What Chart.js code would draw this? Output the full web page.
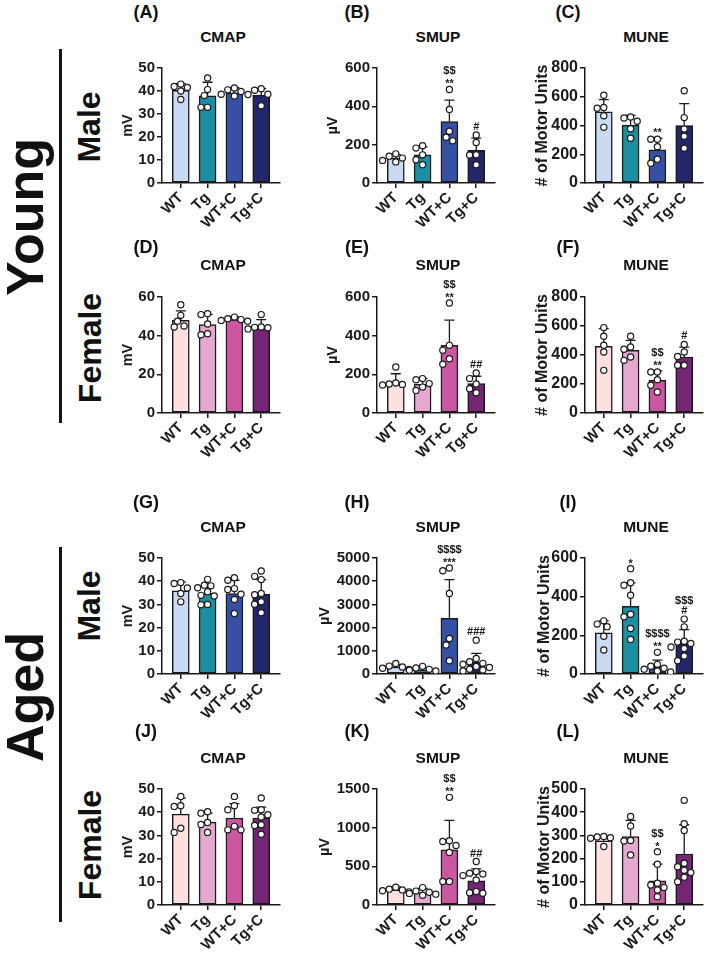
<!DOCTYPE html>
<html>
<head>
<meta charset="utf-8">
<script src="https://cdn.jsdelivr.net/npm/chart.js@4.4.0/dist/chart.umd.min.js"></script>
<style>
  body { margin: 0; width: 709px; height: 956px; background: #fff; position: relative; overflow: hidden;
         font-family: "Liberation Sans", Arial, sans-serif; font-weight: bold; color: #111; }
  .t { position: absolute; white-space: nowrap; line-height: 1; transform: translate(-50%, -50%); }
  .r { transform: translate(-50%, -50%) rotate(-90deg); }
  .vl { position: absolute; width: 3px; background: #111; }
  canvas { position: absolute; }
</style>
</head>
<body>
<div class="vl" style="left:59px;top:49px;height:374px"></div>
<div class="vl" style="left:59px;top:547px;height:375px"></div>
<div class="t r" style="left:25px;top:217px;font-size:52px">Young</div>
<div class="t r" style="left:25px;top:697px;font-size:52px">Aged</div>
<div class="t r" style="left:89px;top:127px;font-size:32px">Male</div>
<div class="t r" style="left:90px;top:348px;font-size:32px">Female</div>
<div class="t r" style="left:89px;top:606px;font-size:32px">Male</div>
<div class="t r" style="left:90px;top:845px;font-size:32px">Female</div>

<script>
const groups = ['WT', 'Tg', 'WT+C', 'Tg+C'];
const maleColors = ['#c8dbf2', '#1b8fa1', '#3650a6', '#23266b'];
const femaleColors = ['#fde0df', '#e3a9cf', '#cd579f', '#742574'];

// (A) young male CMAP
const aMean = [40.3, 37.9, 39.2, 38.2];
const aSd = [2.9, 5.9, 2.3, 2.8];
const aPts = [[42, 43, 41.5, 40, 36.3], [45.7, 40.6, 38, 32.9, 32.9], [41.3, 40.5, 39.8, 38.6, 37.8], [41, 40.3, 38.6, 38.5, 33.6]];
const aSig = [[], [], [], []];
// (B) young male SMUP
const bMean = [130, 147, 320, 170];
const bSd = [18, 42, 112, 64];
const bPts = [[152, 140, 130, 118, 110], [195, 182, 147, 121, 95], [488, 384, 270, 239, 220], [251, 211, 147, 146, 95]];
const bSig = [[], [], ['**', '$$'], ['#']];
// (C) young male MUNE
const cMean = [495, 403, 230, 400];
const cSd = [85, 68, 80, 152];
const cPts = [[610, 525, 520, 468, 387], [460, 452, 430, 378, 311], [304, 304, 253, 166, 138], [642, 455, 375, 325, 242]];
const cSig = [[], [], ['**'], []];
// (D) young female CMAP
const dMean = [47.9, 45.7, 48.3, 44.8];
const dSd = [4.9, 5.3, 1.4, 3.5];
const dPts = [[56, 50.5, 47.5, 45, 44.5], [51.4, 50.9, 46, 41, 40.5], [49.6, 48.8, 48.3, 47.9, 47.5], [50.9, 44.5, 44.3, 44.1, 43.5]];
const dSig = [[], [], [], []];
// (E) young female SMUP
const eMean = [160, 148, 350, 152];
const eSd = [43, 30, 130, 38];
const ePts = [[238, 155, 150, 148, 145], [178, 172, 152, 134, 117], [569, 350, 324, 281, 252], [207, 178, 150, 126, 105]];
const eSig = [[], [], ['**', '$$'], ['##']];
// (F) young female MUNE
const fMean = [460, 432, 225, 386];
const fSd = [122, 69, 65, 69];
const fPts = [[589, 529, 467, 421, 294], [529, 455, 440, 386, 363], [283, 283, 230, 191, 145], [473, 421, 390, 329, 329]];
const fSig = [[], [], ['**', '$$'], ['#']];
// (G) aged male CMAP
const gMean = [35.8, 34.7, 34.7, 34.4];
const gSd = [3.9, 4.0, 5.7, 6.3];
const gPts = [[39.4, 39, 37.1, 34.7, 31.1], [40.8, 38.3, 38.0, 37.2, 35.5, 33.9, 33.6, 30.0, 29.8], [41.5, 40.4, 36.8, 36.4, 34.4, 32.1, 26.1], [44.4, 42.1, 40.7, 34.7, 34.2, 31.1, 30.1, 26.4]];
const gSig = [[], [], [], []];
// (H) aged male SMUP
const hMean = [300, 180, 2400, 500];
const hSd = [100, 80, 1670, 390];
const hPts = [[450, 340, 300, 250, 200], [330, 260, 200, 160, 130, 100, 80], [4570, 4450, 3470, 1530, 1250, 570], [1460, 670, 530, 460, 420, 320, 280, 200, 170, 130]];
const hSig = [[], [], ['***', '$$$$'], ['###']];
// (I) aged male MUNE
const iMean = [213, 350, 38, 158];
const iSd = [62, 121, 34, 72];
const iPts = [[275, 258, 245, 195, 124], [545, 472, 459, 407, 309, 296, 235, 179], [112, 50, 40, 30, 25, 15, 10], [284, 244, 170, 165, 158, 140, 132, 93, 69]];
const iSig = [[], ['*'], ['**', '$$$$'], ['#', '$$$']];
// (J) aged female CMAP
const jMean = [39.2, 35.7, 37.5, 37.5];
const jSd = [6.9, 3.9, 6.2, 4.7];
const jPts = [[46.8, 42.8, 42.5, 33.1, 31.3], [40.2, 39.6, 35.6, 34.7, 31.3], [46.8, 42.8, 41.1, 33.9, 32.4, 32.4], [46.1, 41.1, 40.8, 38.9, 37.9, 34.6, 34.3, 30.5]];
const jSig = [[], [], [], []];
// (K) aged female SMUP
const kMean = [195, 160, 713, 311];
const kSd = [40, 55, 380, 155];
const kPts = [[230, 205, 195, 185, 170], [225, 180, 165, 150, 140, 125], [1392, 830, 821, 770, 679, 303, 303], [562, 432, 411, 402, 380, 324, 173, 160, 151]];
const kSig = [[], [], ['**', '$$'], ['##']];
// (L) aged female MUNE
const lMean = [277, 295, 104, 220];
const lSd = [18, 70, 72, 126];
const lPts = [[295, 293, 290, 288, 252], [382, 341, 278, 276, 216], [230, 176, 94, 86, 75, 65, 36], [451, 350, 321, 180, 165, 150, 140, 120, 100]];
const lSig = [[], [], ['*', '$$'], []];

// page layout (pixels)
const colAxis = [162, 377, 585];
const colRight = [280, 495, 703];
const rowTop = [68, 297, 558, 789];
const rowBottom = [183, 413, 674, 905];
const letterY = [12, 247, 502, 731];
const titleY = [37, 265, 527, 758];
const letterX = [146, 357, 568];

const panels = [
  { id: 'A', title: 'CMAP', yLabel: 'mV', yMax: 50, yStep: 10, mean: aMean, sd: aSd, pts: aPts, sig: aSig, colors: maleColors, col: 0, row: 0, labelX: 128 },
  { id: 'B', title: 'SMUP', yLabel: 'µV', yMax: 600, yStep: 200, mean: bMean, sd: bSd, pts: bPts, sig: bSig, colors: maleColors, col: 1, row: 0, labelX: 333 },
  { id: 'C', title: 'MUNE', yLabel: '# of Motor Units', yMax: 800, yStep: 200, mean: cMean, sd: cSd, pts: cPts, sig: cSig, colors: maleColors, col: 2, row: 0, labelX: 543 },
  { id: 'D', title: 'CMAP', yLabel: 'mV', yMax: 60, yStep: 20, mean: dMean, sd: dSd, pts: dPts, sig: dSig, colors: femaleColors, col: 0, row: 1, labelX: 128 },
  { id: 'E', title: 'SMUP', yLabel: 'µV', yMax: 600, yStep: 200, mean: eMean, sd: eSd, pts: ePts, sig: eSig, colors: femaleColors, col: 1, row: 1, labelX: 333 },
  { id: 'F', title: 'MUNE', yLabel: '# of Motor Units', yMax: 800, yStep: 200, mean: fMean, sd: fSd, pts: fPts, sig: fSig, colors: femaleColors, col: 2, row: 1, labelX: 543 },
  { id: 'G', title: 'CMAP', yLabel: 'mV', yMax: 50, yStep: 10, mean: gMean, sd: gSd, pts: gPts, sig: gSig, colors: maleColors, col: 0, row: 2, labelX: 128 },
  { id: 'H', title: 'SMUP', yLabel: 'µV', yMax: 5000, yStep: 1000, mean: hMean, sd: hSd, pts: hPts, sig: hSig, colors: maleColors, col: 1, row: 2, labelX: 325 },
  { id: 'I', title: 'MUNE', yLabel: '# of Motor Units', yMax: 600, yStep: 200, mean: iMean, sd: iSd, pts: iPts, sig: iSig, colors: maleColors, col: 2, row: 2, labelX: 545 },
  { id: 'J', title: 'CMAP', yLabel: 'mV', yMax: 50, yStep: 10, mean: jMean, sd: jSd, pts: jPts, sig: jSig, colors: femaleColors, col: 0, row: 3, labelX: 128 },
  { id: 'K', title: 'SMUP', yLabel: 'µV', yMax: 1500, yStep: 500, mean: kMean, sd: kSd, pts: kPts, sig: kSig, colors: femaleColors, col: 1, row: 3, labelX: 325 },
  { id: 'L', title: 'MUNE', yLabel: '# of Motor Units', yMax: 500, yStep: 100, mean: lMean, sd: lSd, pts: lPts, sig: lSig, colors: femaleColors, col: 2, row: 3, labelX: 545 },
];

const FONT = '"Liberation Sans", Arial, sans-serif';
const INK = '#1a1a1a';

// spread overlapping dots sideways (beeswarm style), returns x offsets in category units
function swarm(vals, yMax, plotH, catW) {
  const pxPer = plotH / yMax, gap = 6.6;
  const order = vals.map((v, i) => i).sort((a, b) => vals[b] - vals[a]);
  const placed = [], out = [];
  const steps = [0, -0.5, 0.5, -1, 1, -1.5, 1.5, -2, 2];
  for (const i of order) {
    for (const s of steps) {
      const dx = s * gap;
      const clash = placed.some(q => Math.hypot(q.dx - dx, (q.v - vals[i]) * pxPer) < gap);
      if (!clash) { placed.push({ dx, v: vals[i] }); out[i] = dx / catW; break; }
    }
  }
  return out;
}

function addText(txt, x, y, size, rotate) {
  const d = document.createElement('div');
  d.className = 't' + (rotate ? ' r' : '');
  d.style.left = x + 'px'; d.style.top = y + 'px'; d.style.fontSize = size + 'px';
  d.textContent = txt;
  document.body.appendChild(d);
}

function makePanel(p) {
  const axisX = colAxis[p.col], right = colRight[p.col];
  const top = rowTop[p.row], bottom = rowBottom[p.row];
  const padTop = 30, padRight = 6, xH = 70;
  const left = p.labelX - 12;
  const W = right + padRight - left, H = bottom - top + padTop + xH;
  const big = p.col === 2;
  const tickSize = big ? 16 : 15;

  addText('(' + p.id + ')', letterX[p.col], letterY[p.row], 18);
  addText(p.title, (axisX + right) / 2 + 2, titleY[p.row], 15.5);

  const cv = document.createElement('canvas');
  cv.width = W; cv.height = H;
  cv.style.left = left + 'px'; cv.style.top = (top - padTop) + 'px';
  document.body.appendChild(cv);

  const xMin = -0.7, xMax = 3.7;
  const catW = (right - axisX) / (xMax - xMin);
  const barData = p.mean.map((m, i) => ({ x: i, y: m }));
  const dotData = [];
  p.pts.forEach((vals, i) => {
    const offs = swarm(vals, p.yMax, bottom - top, catW);
    vals.forEach((v, k) => dotData.push({ x: i + offs[k], y: v }));
  });

  const errorBars = {
    id: 'errorBars' + p.id,
    afterDatasetDraw(chart, args) {
      if (args.index !== 0) return;
      const { ctx, scales: { x, y } } = chart;
      ctx.save();
      ctx.strokeStyle = INK; ctx.lineWidth = 1.3;
      p.mean.forEach((m, i) => {
        const cx = x.getPixelForValue(i);
        const y0 = y.getPixelForValue(m), y1 = y.getPixelForValue(m + p.sd[i]);
        ctx.beginPath();
        ctx.moveTo(cx, y0); ctx.lineTo(cx, y1);
        ctx.moveTo(cx - 5, y1); ctx.lineTo(cx + 5, y1);
        ctx.stroke();
      });
      ctx.restore();
    },
    afterDraw(chart) {
      const { ctx, scales: { x, y } } = chart;
      ctx.save();
      ctx.fillStyle = INK; ctx.textAlign = 'center'; ctx.textBaseline = 'middle';
      ctx.font = 'bold 11px ' + FONT;
      p.sig.forEach((lines, i) => {
        if (!lines.length) return;
        const topVal = Math.max(Math.max(...p.pts[i]), p.mean[i] + p.sd[i]);
        const base = y.getPixelForValue(topVal) - 8;
        lines.forEach((s, k) => {
          const dy = s[0] === '*' ? 3 : 0;
          ctx.fillText(s, x.getPixelForValue(i), base - k * 10 + dy);
        });
      });
      ctx.restore();
    }
  };

  new Chart(cv, {
    type: 'bar',
    data: {
      datasets: [
        { type: 'bar', data: barData, backgroundColor: p.colors, borderColor: INK, borderWidth: 1.5,
          barThickness: 17, borderSkipped: false, order: 2 },
        { type: 'scatter', data: dotData, pointRadius: 3.1, pointBackgroundColor: '#fff',
          pointBorderColor: INK, pointBorderWidth: 1.2, order: 1 }
      ]
    },
    options: {
      responsive: false, animation: false,
      layout: { padding: { top: padTop, right: padRight, left: 0, bottom: 0 } },
      plugins: { legend: { display: false }, tooltip: { enabled: false } },
      scales: {
        x: {
          type: 'linear', min: xMin, max: xMax, offset: false,
          grid: { display: true, drawOnChartArea: false, offset: false, color: INK, lineWidth: 1.5, tickLength: 5 },
          border: { display: true, color: INK, width: 1.5 },
          afterBuildTicks: s => { s.ticks = groups.map((g, i) => ({ value: i })); },
          afterFit: s => { s.height = xH; s.paddingLeft = 0; s.paddingRight = 0; },
          ticks: { autoSkip: false, minRotation: 45, maxRotation: 45, padding: 1, color: INK,
                   font: { family: FONT, size: 15, weight: 'bold' }, callback: v => groups[v] }
        },
        y: {
          min: 0, max: p.yMax,
          grid: { display: true, drawOnChartArea: false, color: INK, lineWidth: 1.5, tickLength: 5 },
          border: { display: true, color: INK, width: 1.5 },
          afterFit: s => { s.width = axisX - left; s.paddingTop = 0; s.paddingBottom = 0; },
          ticks: { stepSize: p.yStep, padding: 2, color: INK, callback: v => String(v),
                   font: { family: FONT, size: tickSize, weight: 'bold' } },
          title: { display: true, text: p.yLabel, color: INK, padding: { top: 12 - tickSize * 0.6, bottom: 0 },
                   font: { family: FONT, size: big ? 16 : 14.5, weight: 'bold' } }
        }
      }
    },
    plugins: [errorBars]
  });
}

panels.forEach(makePanel);
</script>
</body>
</html>
